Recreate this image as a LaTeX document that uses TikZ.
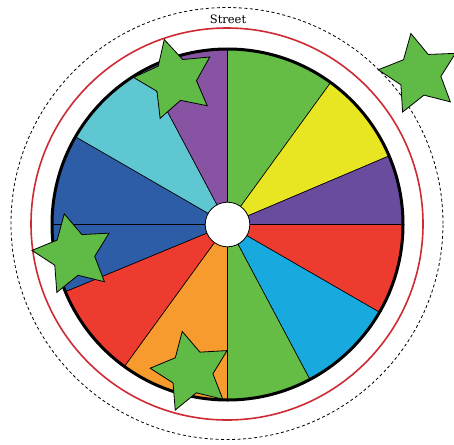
\documentclass[tikz,border=0pt]{standalone}
\usepackage{tikz}
\usepackage{fontspec}
\newfontfamily\streetfont{DejaVu Serif}
\definecolor{wgreen}{HTML}{66BD46}
\definecolor{wyellow}{HTML}{E8E523}
\definecolor{wpurpleR}{HTML}{6A4C9E}
\definecolor{wred}{HTML}{EE3B30}
\definecolor{wsky}{HTML}{18AADE}
\definecolor{worange}{HTML}{F89B2E}
\definecolor{wblue}{HTML}{2E5DA8}
\definecolor{wcyan}{HTML}{5EC7D2}
\definecolor{wpurpleT}{HTML}{8853A2}
\definecolor{streetred}{HTML}{CE2A33}
\definecolor{stargreen}{HTML}{5FBA46}
\tikzset{
  wedge/.style={draw=black, line width=0.6pt, line join=round},
  rim/.style={draw=black, line width=3pt},
  hub/.style={draw=black, line width=0.8pt, fill=white},
  streetline/.style={draw=streetred, line width=1.6pt},
  boundary/.style={draw=black, line width=0.8pt, dash pattern=on 3pt off 2.5pt},
  starshape/.style={draw=black, line width=0.8pt, fill=stargreen, line join=miter},
  label/.style={font=\streetfont\fontsize{11.5}{13}\selectfont, inner sep=0pt, anchor=base}
}
\newcommand{\wheelwedge}[3]{%
  \path[wedge, fill=#3] (C) -- ++(#1:175.5pt) arc[start angle=#1, end angle=#2, radius=175.5pt] -- cycle;}
\newcommand{\greenstar}[3]{%
  \draw[starshape, shift={(#1,#2)}, rotate=#3]
    (90:41.5pt) -- (126:21.5pt) -- (162:41.5pt) -- (198:21.5pt) -- (234:41.5pt) -- (270:21.5pt)
    -- (306:41.5pt) -- (342:21.5pt) -- (18:41.5pt) -- (54:21.5pt) -- cycle;}
\begin{document}
\begin{tikzpicture}[x=1pt,y=1pt]
\useasboundingbox (0,0) rectangle (454,-444);
\coordinate (C) at (227.5,-224.5);
% wedges
\wheelwedge{54}{90}{wgreen}
\wheelwedge{23}{54}{wyellow}
\wheelwedge{0}{23}{wpurpleR}
\wheelwedge{-30}{0}{wred}
\wheelwedge{-62}{-30}{wsky}
\wheelwedge{-90}{-62}{wgreen}
\wheelwedge{-126}{-90}{worange}
\wheelwedge{-157.5}{-126}{wred}
\wheelwedge{-180}{-157.5}{wblue}
\wheelwedge{150}{180}{wblue}
\wheelwedge{118}{150}{wcyan}
\wheelwedge{90}{118}{wpurpleT}
% hub and rim
\node[circle, hub, minimum size=44.6pt, inner sep=0pt] (hub) at (C) {};
\node[circle, rim, minimum size=351pt, inner sep=0pt] (rimc) at (C) {};
% street ring and boundary
\node[circle, streetline, minimum size=392pt, inner sep=0pt] (street) at (227,-224) {};
\node[circle, boundary, minimum size=432pt, inner sep=0pt] (edge) at (227,-223.5) {};
\node[label] (streetlabel) at (228,-24) {Street};
% stars
\greenstar{175}{-79.6}{15}
\greenstar{419.5}{-74.1}{12}
\greenstar{73.3}{-254.3}{12.6}
\greenstar{191.5}{-371.9}{12.9}
\end{tikzpicture}
\end{document}
